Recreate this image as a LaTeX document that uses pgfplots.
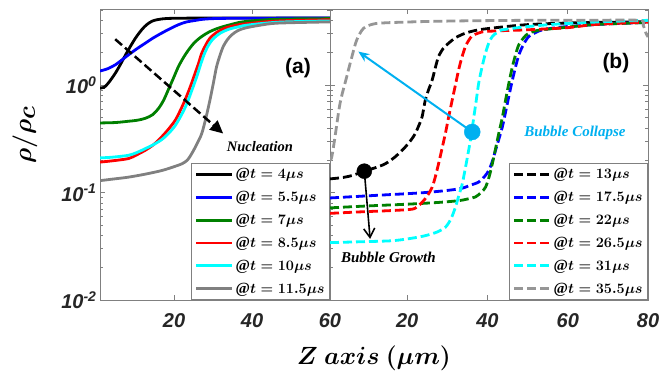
\documentclass[border=0pt]{standalone}
\usepackage{amsmath}
\usepackage{fontspec}
\setmainfont{Liberation Serif}
\setsansfont{Liberation Sans}
\usepackage{pgfplots}
\pgfplotsset{compat=1.18}
\usetikzlibrary{arrows.meta}
\definecolor{lblue}{RGB}{0,176,240}
\definecolor{dgray}{RGB}{128,128,128}
\definecolor{lgray}{RGB}{150,150,150}
\definecolor{dgreen}{RGB}{0,128,0}
\definecolor{mblue}{RGB}{0,0,255}
\definecolor{mred}{RGB}{255,0,0}
\definecolor{mcyan}{RGB}{0,255,255}
\definecolor{tcol}{RGB}{38,38,38}
\newcommand{\lgt}[1]{\textbf{@}$\boldsymbol{t = #1\mu s}$}
\begin{document}
\begin{tikzpicture}
\path[use as bounding box] (0pt,0pt) rectangle (663pt,373pt);
% ---------------- panel (a)
\begin{axis}[at={(100pt,73pt)}, anchor=south west, width=230pt, height=291pt, scale only axis,
  xmin=1, xmax=60, ymode=log, ymin=0.01, ymax=5.1,
  xtick={20,40,60}, xticklabels={20,40,60},
  ytick={0.01,0.1,1},
  minor ytick={0.02,0.03,0.04,0.05,0.06,0.07,0.08,0.09,0.2,0.3,0.4,0.5,0.6,0.7,0.8,0.9,2,3,4,5},
  yticklabels={10\textsuperscript{-2},10\textsuperscript{-1},10\textsuperscript{0}},
  ylabel={$\boldsymbol{\rho/\rho_c}$},
  ylabel style={at={(axis description cs:-0.326,0.567)}, anchor=center, font=\fontsize{36}{40}\selectfont},
  axis line style={draw=dgray,line width=0.8pt},
  major tick style={draw=dgray, line width=0.6pt},
  minor tick style={draw=dgray, line width=0.6pt},
  major tick length=5pt, minor tick length=3pt,
  tick align=inside,
  ticklabel style={font=\fontsize{20}{22}\selectfont\sffamily\bfseries\itshape, text=tcol},
  xticklabel style={yshift=-10pt},
  legend cell align=left,
  legend style={at={(1,0)}, anchor=south east, draw=dgray, fill=white, line width=0.8pt,
    font=\fontsize{15.5}{17}\selectfont, inner xsep=3pt, inner ysep=3pt, row sep=7pt},
  legend image code/.code={\draw[#1] (0pt,0pt) -- (36pt,0pt);}]
\addplot[line width=2.8pt, black, smooth] coordinates {(1,0.94) (2,0.95) (3,1.03) (4,1.15) (5,1.3) (6,1.5) (7,1.75) (8.2,2.1) (10,2.7) (11.7,3.27) (13,3.65) (14.5,3.95) (16.8,4.12) (20,4.18) (30,4.2) (60,4.2)};
\addlegendentry{\lgt{4}}
\addplot[line width=2.8pt, mblue, smooth] coordinates {(1,1.35) (3,1.42) (4.9,1.54) (6.5,1.7) (8.3,1.91) (10.5,2.18) (12.6,2.45) (14.7,2.75) (16.8,3.04) (19,3.35) (21.1,3.64) (23,3.85) (25.4,3.99) (28.3,4.12) (35,4.18) (60,4.2)};
\addlegendentry{\lgt{5.5}}
\addplot[line width=2.8pt, dgreen, smooth] coordinates {(1,0.444) (5,0.448) (8.2,0.46) (10.5,0.47) (12.6,0.49) (14.5,0.53) (16,0.605) (17.3,0.72) (18.5,0.9) (19.8,1.15) (21.1,1.48) (22.4,1.8) (23.7,2.12) (25.3,2.5) (27.1,2.83) (29,3.12) (31.4,3.39) (34.5,3.65) (38.2,3.9) (46.7,4.1) (60,4.15)};
\addlegendentry{\lgt{7}}
\addplot[line width=2.8pt, mred, smooth] coordinates {(1,0.192) (4,0.197) (8.3,0.207) (10.5,0.225) (12.6,0.247) (14.8,0.28) (16.8,0.329) (18.6,0.39) (20.3,0.47) (21.6,0.58) (22.8,0.724) (24.1,0.95) (25.4,1.29) (26.3,1.6) (27.1,1.98) (28.1,2.35) (29.2,2.73) (31,3.1) (33.1,3.39) (35.5,3.57) (38.2,3.71) (46.7,3.95) (60,4.05)};
\addlegendentry{\lgt{8.5}}
\addplot[line width=2.8pt, mcyan, smooth] coordinates {(1,0.21) (4,0.213) (8.3,0.222) (10.5,0.236) (12.6,0.256) (14.8,0.28) (16.8,0.31) (18.6,0.355) (20.3,0.42) (21.8,0.52) (23.2,0.66) (24.6,0.9) (25.9,1.22) (26.8,1.55) (27.7,1.92) (28.7,2.3) (29.9,2.66) (31.8,3.03) (34,3.3) (36.5,3.48) (39,3.62) (47,3.85) (60,3.95)};
\addlegendentry{\lgt{10}}
\addplot[line width=2.8pt, dgray, smooth] coordinates {(1,0.129) (4,0.133) (8.3,0.139) (12.5,0.148) (16.8,0.16) (20,0.174) (22,0.185) (23.4,0.2) (24.5,0.229) (25.8,0.28) (27.1,0.354) (28.2,0.5) (29.2,0.724) (30.1,1.05) (30.9,1.48) (31.8,1.9) (32.6,2.28) (33.7,2.65) (34.8,2.93) (36.3,3.2) (38.2,3.39) (42,3.6) (46.7,3.77) (60,3.87)};
\addlegendentry{\lgt{11.5}}
\draw[black, line width=2.5pt, dash pattern=on 9pt off 4pt, -{Triangle[length=13pt,width=12pt]}] (axis cs:4.9,2.67) -- (axis cs:32.6,0.354);
\node at (axis cs:42,0.27) {\fontsize{14.5}{16}\selectfont\bfseries\itshape Nucleation};
\node at (axis cs:51.8,1.44) {\fontsize{21}{24}\selectfont\sffamily\bfseries (a)};
\end{axis}
% ---------------- panel (b)
\begin{axis}[at={(330pt,73pt)}, anchor=south west, width=318pt, height=291pt, scale only axis,
  xmin=0.75, xmax=80, ymode=log, ymin=0.01, ymax=5.1,
  xtick={20,40,60,80}, xticklabels={20,40,60,80},
  ytick={0.01,0.1,1},
  minor ytick={0.02,0.03,0.04,0.05,0.06,0.07,0.08,0.09,0.2,0.3,0.4,0.5,0.6,0.7,0.8,0.9,2,3,4,5},
  yticklabels={},
  xlabel={$\boldsymbol{Z\ axis\ (\mu m)}$},
  xlabel style={at={(axis description cs:0.138,-0.199)}, anchor=center, font=\fontsize{25}{28}\selectfont},
  axis line style={draw=dgray,line width=0.8pt},
  major tick style={draw=dgray, line width=0.6pt},
  minor tick style={draw=dgray, line width=0.6pt},
  major tick length=5pt, minor tick length=3pt,
  tick align=inside,
  ticklabel style={font=\fontsize{20}{22}\selectfont\sffamily\bfseries\itshape, text=tcol},
  xticklabel style={yshift=-10pt},
  legend cell align=left,
  legend style={at={(1,0)}, anchor=south east, draw=dgray, fill=white, line width=0.8pt,
    font=\fontsize{15.5}{17}\selectfont, inner xsep=3pt, inner ysep=3pt, row sep=7pt},
  legend image code/.code={\draw[#1] (0pt,0pt) -- (36pt,0pt);}]
\addplot[line width=2.8pt, dash pattern=on 9pt off 4pt, black, smooth] coordinates {(0.75,0.134) (4,0.138) (6.5,0.145) (9.3,0.158) (12,0.17) (14.5,0.185) (17,0.215) (19.5,0.265) (21,0.31) (22,0.354) (23,0.43) (23.7,0.506) (24.5,0.724) (25.3,0.9) (26.2,1.11) (27,1.45) (27.8,1.84) (29,2.2) (30.3,2.45) (32,2.75) (34.5,3.04) (37.5,3.25) (41.2,3.39) (49.5,3.64) (60,3.78) (70,3.84) (80,3.88)};
\addlegendentry{\lgt{13}}
\addplot[line width=2.8pt, dash pattern=on 9pt off 4pt, mblue, smooth] coordinates {(0.75,0.089) (12,0.094) (24.5,0.1) (32.8,0.108) (36,0.118) (37.8,0.125) (39.2,0.14) (40.3,0.16) (41.2,0.195) (42,0.247) (42.9,0.32) (43.7,0.408) (44.5,0.56) (45.3,0.778) (46.1,1.07) (47,1.48) (47.8,1.9) (48.7,2.28) (49.5,2.58) (50.3,2.83) (52,3.08) (53.7,3.26) (58,3.45) (66.2,3.64) (73,3.75) (80,3.82)};
\addlegendentry{\lgt{17.5}}
\addplot[line width=2.8pt, dash pattern=on 9pt off 4pt, dgreen, smooth] coordinates {(0.75,0.072) (10,0.075) (20.3,0.078) (28,0.081) (32.8,0.084) (35,0.087) (37,0.091) (38.4,0.1) (39.5,0.112) (40.4,0.14) (41.2,0.185) (42,0.255) (42.8,0.354) (43.7,0.5) (44.5,0.724) (45.3,1.03) (46.2,1.48) (47,1.92) (47.8,2.37) (49,2.75) (50.3,3.04) (53,3.25) (57.8,3.39) (66,3.64) (73,3.74) (80,3.82)};
\addlegendentry{\lgt{22}}
\addplot[line width=2.8pt, dash pattern=on 9pt off 4pt, mred, smooth] coordinates {(0.75,0.064) (8,0.066) (16.2,0.068) (21.2,0.07) (22.5,0.074) (23.7,0.081) (25,0.093) (26.2,0.112) (27,0.14) (27.8,0.185) (28.6,0.25) (29.5,0.354) (30.3,0.5) (31.2,0.724) (32,1.0) (32.8,1.38) (33.6,1.8) (34.5,2.28) (35.3,2.6) (36.2,2.87) (37.8,3.05) (39.5,3.15) (45,3.22) (49.5,3.26) (60,3.42) (66,3.64) (73,3.76) (80,3.85)};
\addlegendentry{\lgt{26.5}}
\addplot[line width=2.8pt, dash pattern=on 9pt off 4pt, mcyan, smooth] coordinates {(0.75,0.0342) (8,0.0348) (16.2,0.0356) (21,0.0375) (24.5,0.0397) (27.5,0.043) (29.5,0.0475) (30.9,0.057) (32,0.073) (32.9,0.095) (33.7,0.12) (34.5,0.17) (35.3,0.247) (36,0.35) (36.6,0.506) (37.2,0.72) (37.8,1.04) (38.6,1.45) (39.5,1.98) (40.3,2.45) (41.2,2.83) (42.4,3.08) (43.7,3.26) (50,3.5) (57.8,3.7) (70,3.9) (80,4.0)};
\addlegendentry{\lgt{31}}
\addplot[line width=2.8pt, dash pattern=on 9pt off 4pt, lgray, smooth] coordinates {(0.75,0.2) (1.2,0.215) (2,0.33) (3.25,0.675) (4.9,1.19) (6.2,1.83) (7.4,2.62) (9.1,3.37) (11.6,3.7) (15,3.8) (24.5,3.9) (35,3.96) (49.5,4.0) (65,4.0) (77.8,4.0) (78.8,3.6) (79.5,3.04) (80,2.8)};
\addlegendentry{\lgt{35.5}}
\draw[lblue, line width=2pt, -{Stealth[length=11pt,width=9pt]}] (axis cs:36.2,0.366) -- (axis cs:7.8,2.05);
\draw[black, line width=1.6pt, -{Straight Barb[length=9pt,width=11pt]}] (axis cs:9.3,0.158) -- (axis cs:10.75,0.037);
\addplot[only marks, mark=*, mark size=7.5pt, black, forget plot] coordinates {(9.3,0.158)};
\addplot[only marks, mark=*, mark size=8pt, lblue, forget plot] coordinates {(36.2,0.366)};
\node[text=lblue] at (axis cs:61.8,0.356) {\fontsize{15}{17}\selectfont\bfseries\itshape Bubble Collapse};
\node at (axis cs:15.3,0.025) {\fontsize{15}{17}\selectfont\bfseries\itshape Bubble Growth};
\node at (axis cs:72,1.59) {\fontsize{21}{24}\selectfont\sffamily\bfseries (b)};
\end{axis}
\end{tikzpicture}
\end{document}
